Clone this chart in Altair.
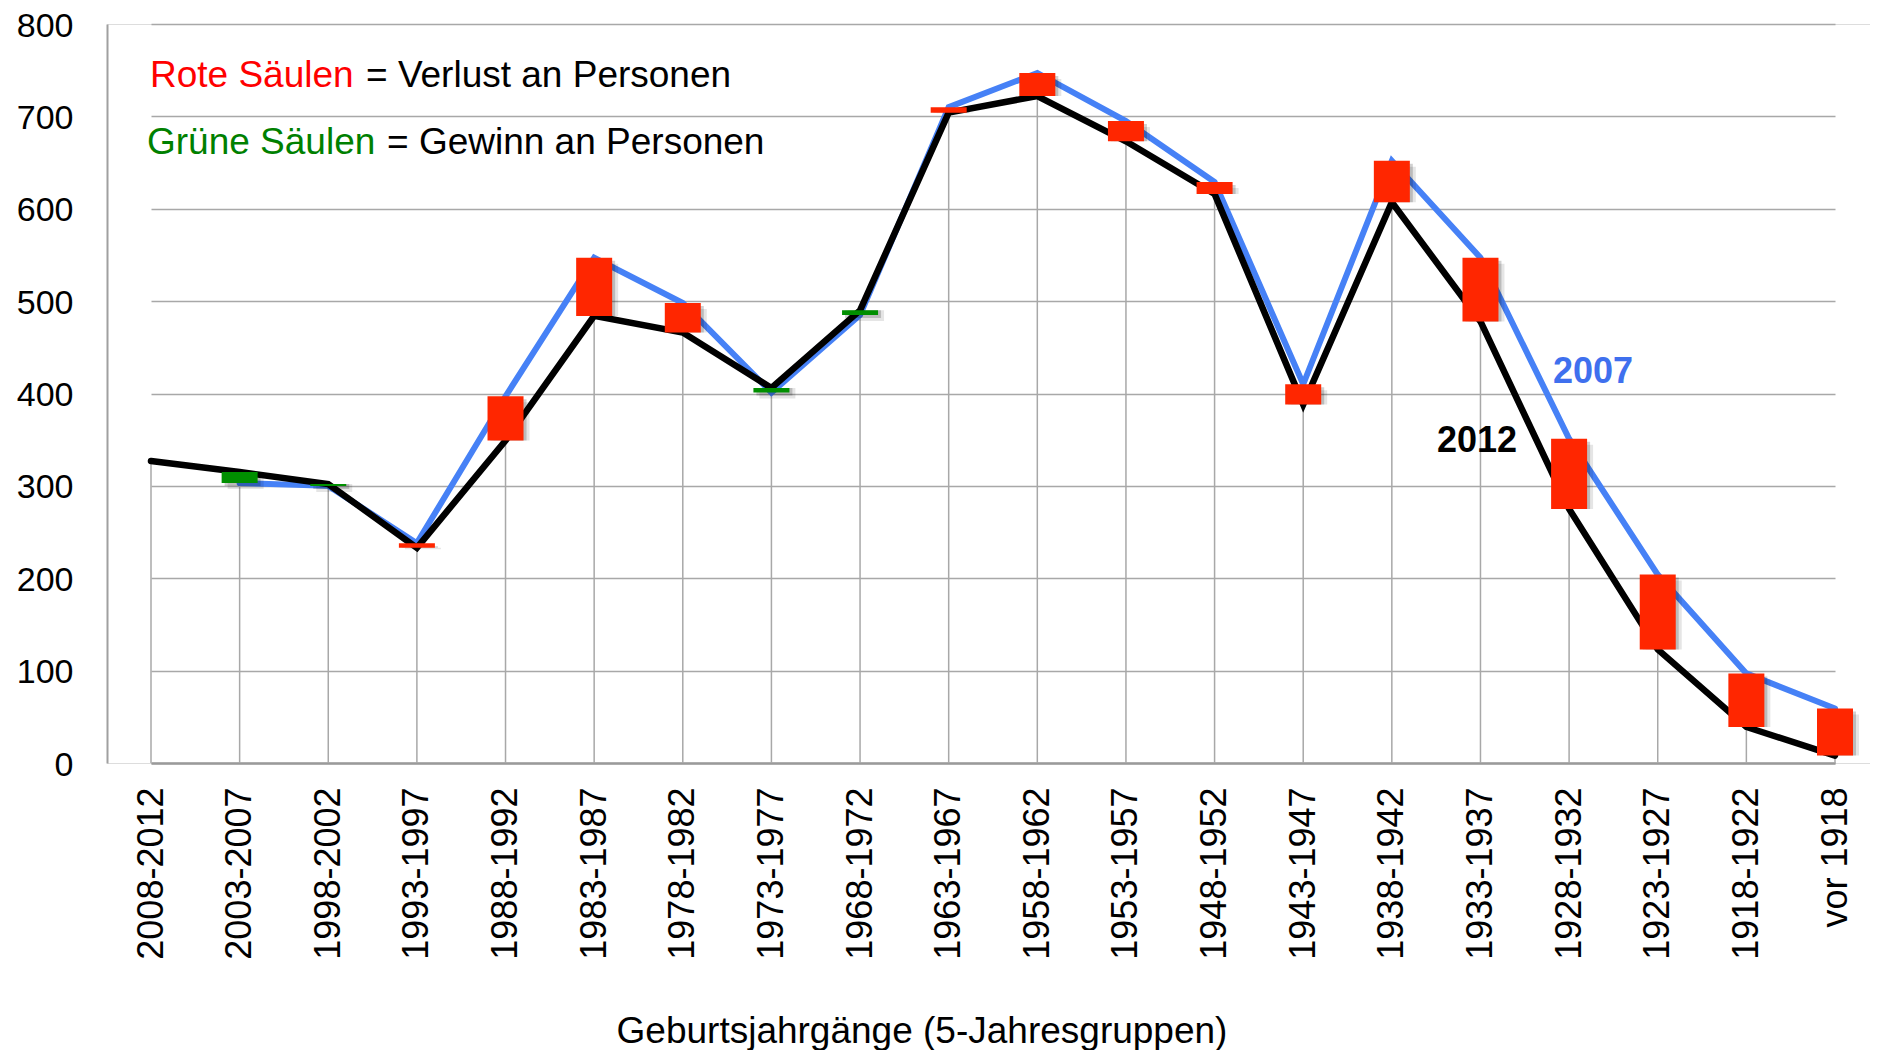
import altair as alt
import pandas as pd
import numpy as np

categories = ["2008-2012", "2003-2007", "1998-2002", "1993-1997", "1988-1992",
              "1983-1987", "1978-1982", "1973-1977", "1968-1972", "1963-1967",
              "1958-1962", "1953-1957", "1948-1952", "1943-1947", "1938-1942",
              "1933-1937", "1928-1932", "1923-1927", "1918-1922", "vor 1918"]
values_2012 = [327, 315, 302, 233, 349, 484, 466, 406, 490, 704,
               722, 673, 616, 388, 607, 478, 275, 123, 39, 8]
values_2007 = [None, 303, 300, 238, 397, 547, 498, 401, 485, 710,
               747, 695, 629, 410, 652, 547, 351, 204, 97, 59]
y_ticks = [0, 100, 200, 300, 400, 500, 600, 700, 800]

FONT = "Liberation Sans"
RED = "#FF2600"
GREEN = "#008F00"
BLUE = "#4681F6"
GRID = "#A8A8A8"

df = pd.DataFrame({"cat": categories, "v2012": values_2012, "v2007": values_2007})
bars = df.dropna(subset=["v2007"]).copy()
bars["change"] = np.where(bars["v2012"] < bars["v2007"], "Verlust", "Gewinn")

x_enc = alt.X("cat:N", sort=categories, title=None,
              scale=alt.Scale(type="point", range=[44, 1728], padding=0),
              axis=alt.Axis(labelAngle=-90, labelFontSize=36, labelFont=FONT,
                            labelColor="black", labelPadding=24, ticks=False,
                            grid=False, domainColor="#9A9A9A", domainWidth=2.5))
y_scale = alt.Scale(domain=[0, 800], nice=False)
y_axis = alt.Axis(values=y_ticks, labelFontSize=34, labelFont=FONT, labelColor="black",
                  labelPadding=34, labelOffset=2, ticks=False, grid=True, gridColor=GRID,
                  gridWidth=1.5, domainColor="#A0A0A0", domainWidth=2)

drop = alt.Chart(df).mark_rule(color=GRID, strokeWidth=1.5).encode(
    x=x_enc,
    y=alt.Y("v2012:Q", scale=y_scale, axis=y_axis, title=None),
    y2=alt.datum(0),
)

line07 = alt.Chart(df).mark_line(color=BLUE, strokeWidth=6, strokeCap="round").encode(
    x=x_enc, y=alt.Y("v2007:Q", scale=y_scale, axis=y_axis, title=None),
)
line12 = alt.Chart(df).mark_line(color="black", strokeWidth=6.5, strokeCap="round").encode(
    x=x_enc, y=alt.Y("v2012:Q", scale=y_scale, axis=y_axis, title=None),
)

shadow1 = alt.Chart(bars).mark_bar(width=36, color="black", opacity=0.10, xOffset=6, yOffset=6).encode(
    x=x_enc, y=alt.Y("v2007:Q", scale=y_scale, axis=y_axis, title=None), y2="v2012:Q",
)
shadow2 = alt.Chart(bars).mark_bar(width=36, color="black", opacity=0.18, xOffset=3, yOffset=3).encode(
    x=x_enc, y=alt.Y("v2007:Q", scale=y_scale, axis=y_axis, title=None), y2="v2012:Q",
)
bar = alt.Chart(bars).mark_bar(width=36).encode(
    x=x_enc, y=alt.Y("v2007:Q", scale=y_scale, axis=y_axis, title=None), y2="v2012:Q",
    color=alt.Color("change:N", scale=alt.Scale(domain=["Verlust", "Gewinn"], range=[RED, GREEN]),
                    legend=None),
)

one = pd.DataFrame({"a": [0]})

def label(text, x, y, color, size, weight="normal", align="left"):
    return alt.Chart(one).mark_text(text=text, font=FONT, fontSize=size, fontWeight=weight,
                                    color=color, align=align, baseline="middle").encode(
        x=alt.value(x), y=alt.value(y))

texts = [
    label("Rote Säulen", 43, 52, "#FF0000", 37),
    label("= Verlust an Personen", 259, 52, "black", 37),
    label("Grüne Säulen", 40, 119, "#008000", 37),
    label("= Gewinn an Personen", 280, 119, "black", 37),
    label("2007", 1446, 348, "#3F70EE", 36, "bold"),
    label("2012", 1330, 417, "black", 36, "bold"),
    label("Geburtsjahrgänge (5-Jahresgruppen)", 815, 1008, "black", 37, align="center"),
]

chart = alt.layer(drop, line07, line12, shadow1, shadow2, bar, *texts).properties(
    width=1763, height=739,
    autosize=alt.AutoSizeParams(type="none"),
    padding={"left": 99, "top": 16, "right": 0, "bottom": 287},
).configure_view(stroke=None).configure(background="white")

chart.save("out.html", embed_options={"renderer": "svg", "actions": False})
